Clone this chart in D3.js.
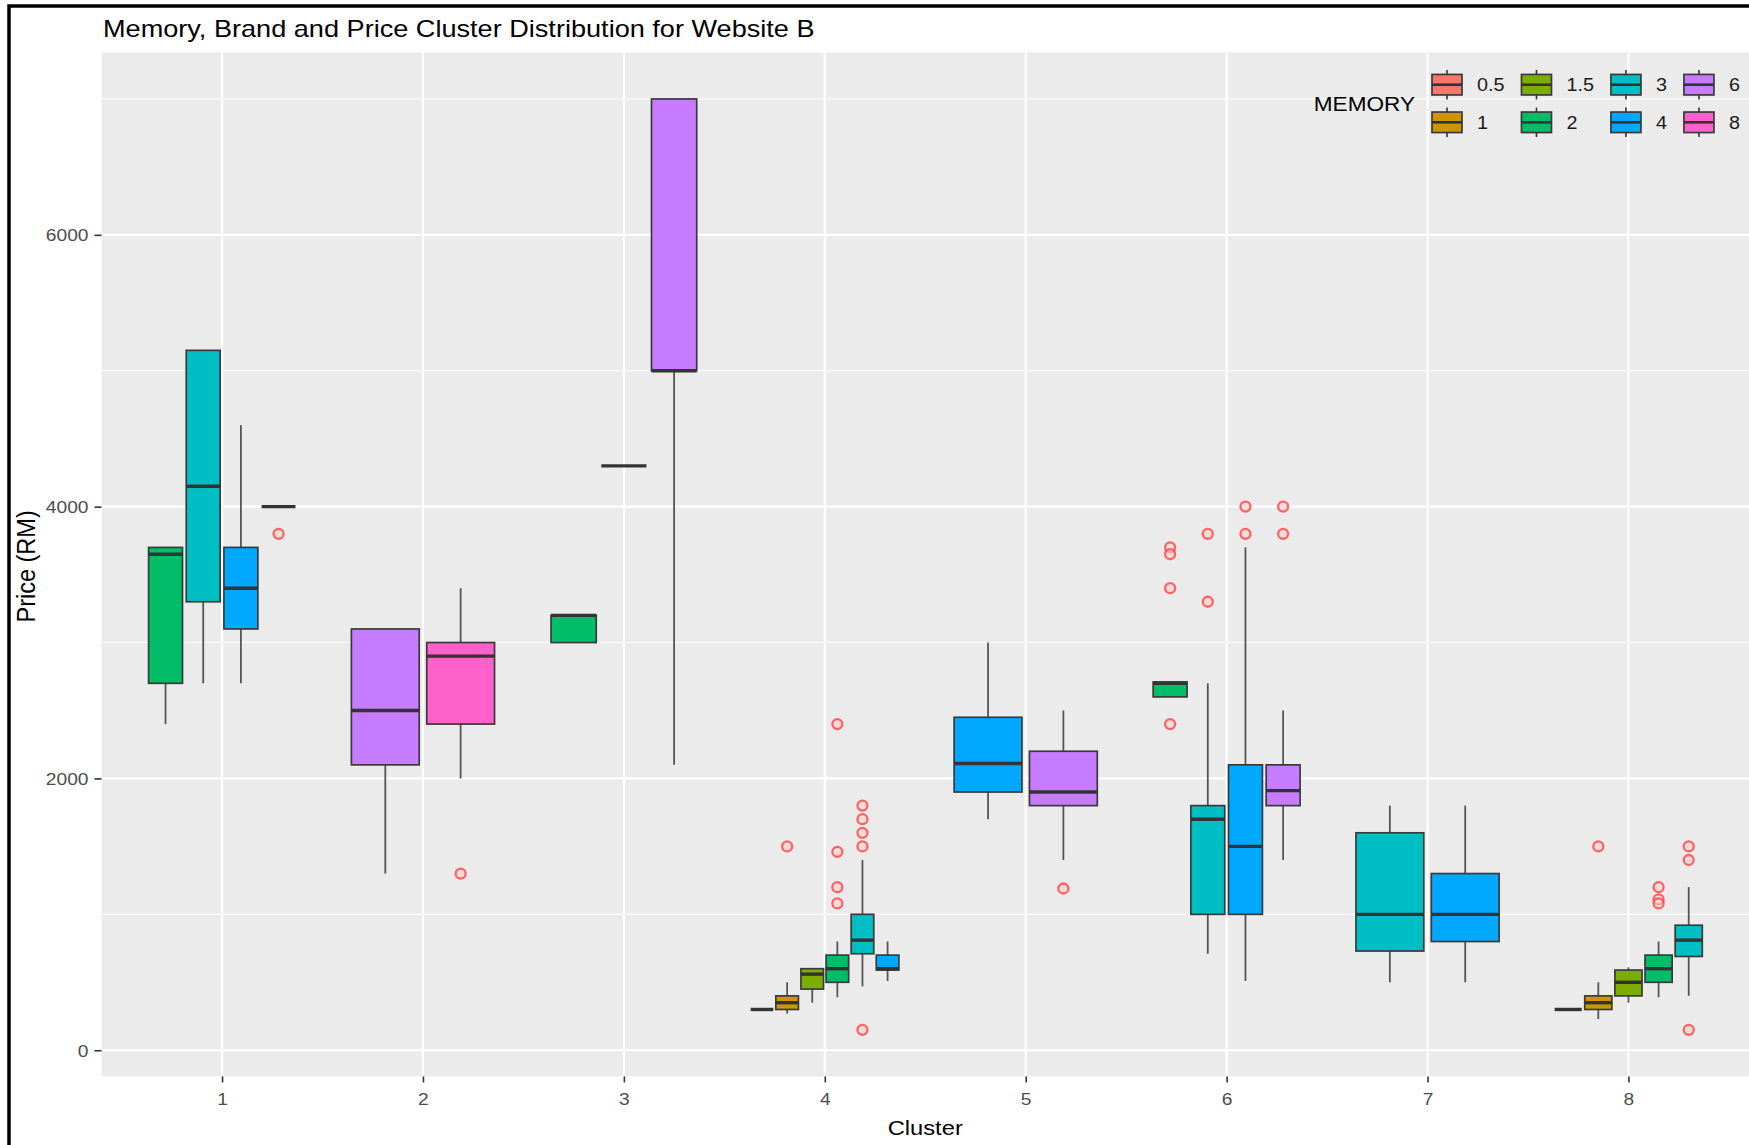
<!DOCTYPE html>
<html>
<head>
<meta charset="utf-8">
<script src="https://cdn.jsdelivr.net/npm/d3@7"></script>
<style>
  html, body { margin: 0; padding: 0; background: #ffffff; }
  svg { display: block; font-family: "Liberation Sans", Arial, Helvetica, sans-serif; }
</style>
</head>
<body>
<svg id="chart" width="1749" height="1145"></svg>
<script>
// ---- data -------------------------------------------------------------
const clusters = ["1", "2", "3", "4", "5", "6", "7", "8"];
const memoryLevels = ["0.5", "1", "1.5", "2", "3", "4", "6", "8"];
const memoryColors = ["#F8766D", "#CD9600", "#7CAE00", "#00BE67", "#00BFC4", "#00A9FF", "#C77CFF", "#FF61CC"];
const yTicks = [0, 2000, 4000, 6000];
const yMinor = [1000, 3000, 5000, 7000];

// one entry per box: cluster, memory group and its five-number summary
const boxCluster = ["1","1","1","1", "2","2", "3","3","3", "4","4","4","4","4","4", "5","5", "6","6","6","6", "7","7", "8","8","8","8","8"];
const boxMemory  = ["2","3","4","6", "6","8", "2","4","6", "0.5","1","1.5","2","3","4", "4","6", "2","3","4","6", "3","4", "0.5","1","1.5","2","3"];
const whiskerLow  = [2400, 2700, 2700, 4000,  1300, 2000,  3000, 4300, 2100,  300, 270, 350, 390, 470, 510,  1700, 1400,  2600, 710, 510, 1400,  500, 500,  300, 230, 350, 390, 400];
const lowerQuart  = [2700, 3300, 3100, 4000,  2100, 2400,  3000, 4300, 5000,  300, 300, 450, 500, 710, 590,  1900, 1800,  2600, 1000, 1000, 1800,  730, 800,  300, 300, 400, 500, 690];
const medianPrice = [3650, 4150, 3400, 4000,  2500, 2900,  3200, 4300, 5000,  300, 350, 560, 600, 810, 600,  2110, 1900,  2700, 1700, 1500, 1910,  1000, 1000,  300, 350, 500, 600, 810];
const upperQuart  = [3700, 5150, 3700, 4000,  3100, 3000,  3200, 4300, 7000,  300, 400, 600, 700, 1000, 700,  2450, 2200,  2710, 1800, 2100, 2100,  1600, 1300,  300, 400, 590, 700, 920];
const whiskerHigh = [3700, 5150, 4600, 4000,  3100, 3400,  3200, 4300, 7000,  300, 500, 600, 800, 1400, 800,  3000, 2500,  2710, 2700, 3700, 2500,  1800, 1800,  300, 500, 610, 800, 1200];
const outlierPrices = [
  [], [], [], [3800],
  [], [1300],
  [], [], [],
  [], [1500], [], [2400, 1460, 1200, 1080], [1800, 1700, 1600, 1500, 150], [],
  [], [1190],
  [3700, 3650, 3400, 2400], [3800, 3300], [4000, 3800], [4000, 3800],
  [], [],
  [], [1500], [], [1200, 1110, 1080], [1500, 1400, 150]
];

// ---- layout -----------------------------------------------------------
const W = 1749, H = 1145;
const panel = { left: 101.5, right: 1749, top: 52.4, bottom: 1076.4 };
const TEXT_SX = 1.13;   // glyphs are drawn slightly wide

const svg = d3.select("#chart");

const x = d3.scalePoint().domain(clusters).range([panel.left, panel.right]).padding(0.6);
const y = d3.scaleLinear().domain([-192.5, 7342.5]).range([panel.bottom, panel.top]);
const fill = d3.scaleOrdinal(memoryLevels, memoryColors);

svg.append("rect").attr("x", 0).attr("y", 0).attr("width", W).attr("height", H).attr("fill", "#fff");

// panel + grid
svg.append("rect")
  .attr("x", panel.left).attr("y", panel.top)
  .attr("width", panel.right - panel.left).attr("height", panel.bottom - panel.top)
  .attr("fill", "#EBEBEB");

const grid = svg.append("g");
grid.selectAll("line.minor").data(yMinor).join("line")
  .attr("x1", panel.left).attr("x2", panel.right)
  .attr("y1", d => y(d)).attr("y2", d => y(d))
  .attr("stroke", "#fff").attr("stroke-width", 1.1);
grid.selectAll("line.major").data(yTicks).join("line")
  .attr("x1", panel.left).attr("x2", panel.right)
  .attr("y1", d => y(d)).attr("y2", d => y(d))
  .attr("stroke", "#fff").attr("stroke-width", 2.2);
grid.selectAll("line.vert").data(clusters).join("line")
  .attr("x1", d => x(d)).attr("x2", d => x(d))
  .attr("y1", panel.top).attr("y2", panel.bottom)
  .attr("stroke", "#fff").attr("stroke-width", 2.2);

// ---- boxes (dodged within each cluster) -------------------------------
const boxes = boxCluster.map((c, i) => ({
  cluster: c, memory: boxMemory[i],
  lo: whiskerLow[i], q1: lowerQuart[i], med: medianPrice[i], q3: upperQuart[i], hi: whiskerHigh[i],
  out: outlierPrices[i]
}));
const byCluster = d3.group(boxes, d => d.cluster);
byCluster.forEach(list => {
  const n = list.length;
  const slot = 0.75 * x.step() / n;
  list.forEach((b, i) => {
    b.cx = x(b.cluster) + (i - (n - 1) / 2) * slot;
    b.w = 0.9 * slot;
  });
});

const ink = "#333333";
const whiskerInk = "#555555";
const marks = svg.append("g");
const bg = marks.selectAll("g.box").data(boxes).join("g").attr("class", "box");

bg.append("line")
  .attr("x1", d => d.cx).attr("x2", d => d.cx)
  .attr("y1", d => y(d.q3)).attr("y2", d => y(d.hi))
  .attr("stroke", whiskerInk).attr("stroke-width", 1.8);
bg.append("line")
  .attr("x1", d => d.cx).attr("x2", d => d.cx)
  .attr("y1", d => y(d.q1)).attr("y2", d => y(d.lo))
  .attr("stroke", whiskerInk).attr("stroke-width", 1.8);
bg.append("rect")
  .attr("x", d => d.cx - d.w / 2).attr("width", d => d.w)
  .attr("y", d => y(d.q3)).attr("height", d => y(d.q1) - y(d.q3))
  .attr("fill", d => fill(d.memory))
  .attr("stroke", "#3a3a3a").attr("stroke-width", 1.7);
bg.append("line")
  .attr("x1", d => d.cx - d.w / 2).attr("x2", d => d.cx + d.w / 2)
  .attr("y1", d => y(d.med)).attr("y2", d => y(d.med))
  .attr("stroke", ink).attr("stroke-width", 3.4);

bg.selectAll("circle").data(d => d.out.map(v => ({ cx: d.cx, v }))).join("circle")
  .attr("cx", d => d.cx).attr("cy", d => y(d.v)).attr("r", 5)
  .attr("fill", "#FFD0D0").attr("fill-opacity", 0.6)
  .attr("stroke", "#FF4444").attr("stroke-opacity", 0.8).attr("stroke-width", 2.3);

// ---- axes -------------------------------------------------------------
function widen(sel, sx) {
  sel.each(function () {
    const t = d3.select(this);
    const tx = +t.attr("x") || 0;
    t.attr("x", 0).attr("transform", `translate(${tx},0) scale(${sx},1)`);
  });
}

const yAxis = svg.append("g")
  .attr("transform", `translate(${panel.left},0)`)
  .call(d3.axisLeft(y).tickValues(yTicks).tickFormat(d3.format("d")).tickSize(7).tickPadding(6));
yAxis.select(".domain").remove();
yAxis.selectAll(".tick line").attr("stroke", ink).attr("stroke-width", 1.6);
yAxis.selectAll(".tick text")
  .attr("font-size", 17).attr("fill", "#4D4D4D").attr("font-family", "Liberation Sans, Arial, sans-serif")
  .attr("dy", "0.36em")
  .call(widen, TEXT_SX);

const xAxis = svg.append("g")
  .attr("transform", `translate(0,${panel.bottom})`)
  .call(d3.axisBottom(x).tickSize(6).tickPadding(5));
xAxis.select(".domain").remove();
xAxis.selectAll(".tick line").attr("stroke", ink).attr("stroke-width", 1.6);
xAxis.selectAll(".tick text")
  .attr("font-size", 17).attr("fill", "#4D4D4D").attr("font-family", "Liberation Sans, Arial, sans-serif")
  .attr("y", 0).attr("dy", 0)
  .attr("transform", `translate(0,29) scale(${TEXT_SX},1)`);

// ---- titles -----------------------------------------------------------
function label(str, tx, ty, size, anchor, color, rot = 0) {
  const t = svg.append("text")
    .attr("font-size", size).attr("fill", color).attr("text-anchor", anchor)
    .text(str);
  if (rot) t.attr("transform", `translate(${tx},${ty}) rotate(${rot}) scale(1,${TEXT_SX})`);
  else t.attr("transform", `translate(${tx},${ty}) scale(${TEXT_SX},1)`);
  return t;
}

label("Memory, Brand and Price Cluster Distribution for Website B", 103, 36.5, 24, "start", "#000");
label("Cluster", (panel.left + panel.right) / 2, 1135, 21, "middle", "#000");
label("Price (RM)", 35, (panel.top + panel.bottom) / 2 + 2, 23.5, "middle", "#000", -90);

// ---- legend -----------------------------------------------------------
const legend = svg.append("g");
const keyW = 30, keyH = 20.5, rowY = [84.7, 122.3];
label("MEMORY", 1415, rowY[0] + (rowY[1] - rowY[0]) / 2 + 7, 20, "end", "#000");

let colX = 1432;
for (let c = 0; c < 4; c++) {
  const items = memoryLevels.slice(c * 2, c * 2 + 2);
  let maxW = 0;
  items.forEach((m, r) => {
    const cy = rowY[r];
    const k = legend.append("g");
    k.append("line").attr("x1", colX + keyW / 2).attr("x2", colX + keyW / 2)
      .attr("y1", cy - keyH / 2 - 4.5).attr("y2", cy + keyH / 2 + 4.5)
      .attr("stroke", ink).attr("stroke-width", 1.6);
    k.append("rect").attr("x", colX).attr("y", cy - keyH / 2).attr("width", keyW).attr("height", keyH)
      .attr("fill", fill(m)).attr("stroke", "#3a3a3a").attr("stroke-width", 1.7);
    k.append("line").attr("x1", colX).attr("x2", colX + keyW)
      .attr("y1", cy).attr("y2", cy).attr("stroke", ink).attr("stroke-width", 2.6);
    const t = label(m, colX + keyW + 15, cy + 6.3, 17.5, "start", "#1a1a1a");
    maxW = Math.max(maxW, t.node().getComputedTextLength() * TEXT_SX);
  });
  colX += keyW + 15 + maxW + 17;
}

// outer frame
svg.append("rect").attr("x", 9).attr("y", 6).attr("width", W + 50).attr("height", H + 50)
  .attr("fill", "none").attr("stroke", "#000").attr("stroke-width", 3.5);
</script>
</body>
</html>
